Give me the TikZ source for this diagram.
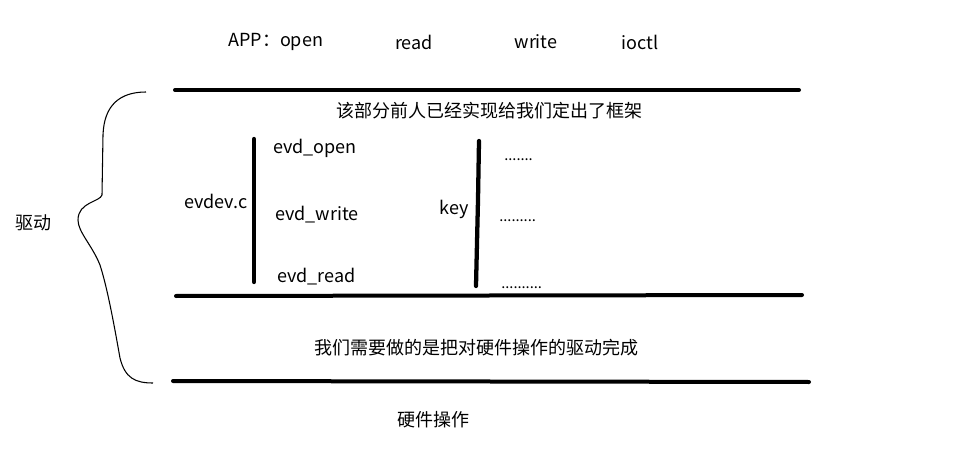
\documentclass[tikz,border=0pt]{standalone}
\usepackage{fontspec}
\setmainfont{Noto Sans CJK SC}
\newfontfamily\cjk{Noto Sans CJK SC}
\begin{document}
\begin{tikzpicture}[x=0.75pt,y=-0.75pt,
  lbl/.style={inner sep=0pt,font=\fontsize{13.5pt}{15pt}\selectfont},
  llbl/.style={lbl,anchor=west},
  dots/.style={inner sep=0pt,font=\fontsize{11pt}{13pt}\selectfont},
  thick line/.style={line width=3pt,line cap=round},
  bar/.style={line width=3.2pt,line cap=round},
  brace line/.style={line width=0.8pt}]
\useasboundingbox (0,0) rectangle (957,449);
% top labels
\node[llbl] (app) at (228,42) {APP：open};
\node[lbl] (read) at (414,42) {read};
\node[lbl] (write) at (536,42) {write};
\node[lbl] (ioctl) at (640,42) {ioctl};
% horizontal lines
\coordinate (l1a) at (175,90); \coordinate (l1b) at (799,90);
\coordinate (l2a) at (176,296); \coordinate (l2b) at (802,295);
\coordinate (l3a) at (173,381); \coordinate (l3b) at (809,382);
\draw[thick line] (l1a) -- (l1b);
\draw[thick line] (l2a) -- (l2b);
\draw[thick line] (l3a) -- (l3b);
% texts
\node[lbl] (fw) at (489,111) {该部分前人已经实现给我们定出了框架};
\node[lbl] (todo) at (476,348) {我们需要做的是把对硬件操作的驱动完成};
\node[lbl] (hw) at (433,420) {硬件操作};
\node[lbl] (drv) at (34,223) {驱动};
% evdev
\node[lbl] (evdev) at (216,201) {evdev.c};
\coordinate (b1a) at (254,139); \coordinate (b1b) at (254,282);
\draw[bar] (b1a) -- (b1b);
\node[llbl] (eo) at (273,148) {evd\_open};
\node[llbl] (ew) at (275,215) {evd\_write};
\node[llbl] (er) at (277,277) {evd\_read};
% key
\node[lbl] (key) at (454,209) {key};
\coordinate (b2a) at (479,141); \coordinate (b2m) at (478,200); \coordinate (b2b) at (476,286);
\draw[bar] (b2a) -- (b2m) -- (b2b);
\node[dots,anchor=base west] (d1) at (504,161) {.......};
\node[dots,anchor=base west] (d2) at (499,222) {.........};
\node[dots,anchor=base west] (d3) at (501,288) {..........};
% brace
\coordinate (bs) at (146,92);
\coordinate (bt) at (78,220);
\coordinate (be) at (153,383);
\draw[brace line] (bs) .. controls (120,92) and (104,105) .. (103,135)
  -- (102,195) .. controls (100,202) and (78,202) .. (bt)
  .. controls (78,232) and (92,245) .. (100,265)
  .. controls (108,290) and (115,330) .. (120,358)
  .. controls (125,378) and (135,383) .. (be);
\end{tikzpicture}
\end{document}
